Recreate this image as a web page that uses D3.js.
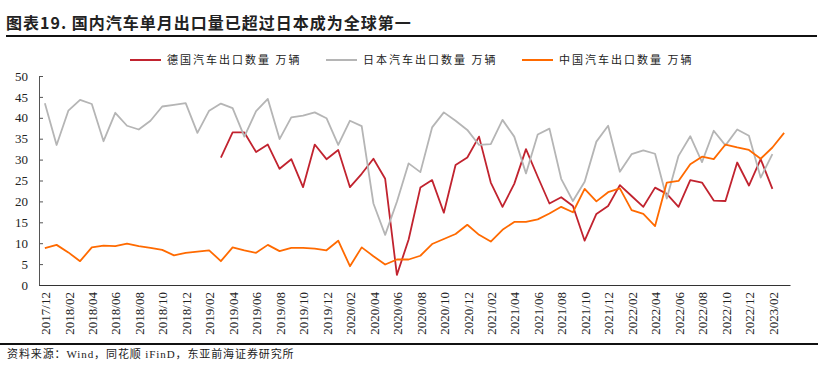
<!DOCTYPE html>
<html>
<head>
<meta charset="utf-8">
<script src="https://cdn.jsdelivr.net/npm/d3@7"></script>
<style>
  body { margin: 0; background: #fff; }
  .chart text { fill: #222; }
</style>
</head>
<body>
<div class="chart"></div>
<script>
// months 2017/12 .. 2023/03
const months = [
  "2017/12",
  "2018/01","2018/02","2018/03","2018/04","2018/05","2018/06","2018/07","2018/08","2018/09","2018/10","2018/11","2018/12",
  "2019/01","2019/02","2019/03","2019/04","2019/05","2019/06","2019/07","2019/08","2019/09","2019/10","2019/11","2019/12",
  "2020/01","2020/02","2020/03","2020/04","2020/05","2020/06","2020/07","2020/08","2020/09","2020/10","2020/11","2020/12",
  "2021/01","2021/02","2021/03","2021/04","2021/05","2021/06","2021/07","2021/08","2021/09","2021/10","2021/11","2021/12",
  "2022/01","2022/02","2022/03","2022/04","2022/05","2022/06","2022/07","2022/08","2022/09","2022/10","2022/11","2022/12",
  "2023/01","2023/02","2023/03"
];

// 德国 (starts 2019/03, ends 2023/02)
const germany = [
  null, null, null, null, null, null, null, null, null, null, null, null, null, null, null,
  30.5, 36.5, 36.5, 31.8, 33.6, 27.8, 30.1, 23.4, 33.6, 30.1,
  32.3, 23.4, 26.6, 30.2, 25.4, 2.4, 10.9, 23.3, 25.1, 17.3, 28.7, 30.5,
  35.5, 24.5, 18.7, 24.2, 32.5, 25.9, 19.5, 21.0, 18.9, 10.6, 17.0, 18.9,
  23.9, 21.3, 18.7, 23.3, 21.8, 18.7, 25.1, 24.5, 20.2, 20.1, 29.3, 23.8,
  30.1, 23.0, null
];

// 日本
const japan = [
  43.5,
  33.5, 41.7, 44.3, 43.3, 34.4, 41.2, 38.1, 37.2, 39.3, 42.7, 43.1, 43.5,
  36.4, 41.7, 43.4, 42.3, 35.5, 41.6, 44.5, 34.9, 40.1, 40.5, 41.3, 39.9,
  33.5, 39.3, 38.0, 19.5, 12.0, 19.9, 29.1, 27.0, 37.7, 41.3, 39.3, 37.1,
  33.5, 33.7, 39.5, 35.5, 26.7, 36.0, 37.4, 25.4, 20.1, 24.7, 34.3, 38.1,
  27.1, 31.3, 32.2, 31.4, 20.7, 30.9, 35.6, 29.4, 36.9, 33.4, 37.2, 35.7,
  25.7, 31.3, null
];

// 中国
const china = [
  8.8,
  9.6, 7.8, 5.7, 9.0, 9.4, 9.3, 9.9, 9.3, 8.9, 8.4, 7.1, 7.7,
  8.0, 8.3, 5.7, 9.0, 8.3, 7.7, 9.6, 8.1, 8.9, 8.9, 8.7, 8.3,
  10.6, 4.5, 9.0, 6.9, 4.9, 6.1, 6.1, 7.0, 9.8, 11.0, 12.2, 14.4,
  12.0, 10.4, 13.2, 15.1, 15.1, 15.7, 17.1, 18.7, 17.4, 23.0, 20.0, 22.2,
  23.1, 17.9, 17.0, 14.1, 24.5, 24.9, 28.9, 30.7, 30.1, 33.6, 32.9, 32.3,
  30.2, 32.9, 36.4
];

const yTicks = [0, 5, 10, 15, 20, 25, 30, 35, 40, 45, 50];

const series = [
  {name: "德国汽车出口数量 万辆", values: germany, color: "#c1232f"},
  {name: "日本汽车出口数量 万辆", values: japan, color: "#b5b5b5"},
  {name: "中国汽车出口数量 万辆", values: china, color: "#ff6a00"}
];

const width = 819, height = 372;
const plot = {left: 39, right: 790, top: 76, bottom: 285};

const svg = d3.select('.chart').append('svg')
    .attr('width', width)
    .attr('height', height)
    .style('display', 'block');

svg.append('rect').attr('width', width).attr('height', height).attr('fill', '#fff');

// title
svg.append('text')
    .attr('x', 6)
    .attr('y', 29)
    .style('font-family', '"Noto Sans CJK SC", sans-serif')
    .style('font-size', '16px')
    .style('font-weight', 'bold')
    .style('letter-spacing', '1px')
    .text('图表19. 国内汽车单月出口量已超过日本成为全球第一');

svg.append('line')
    .attr('x1', 6).attr('x2', 817)
    .attr('y1', 36).attr('y2', 36)
    .attr('stroke', '#111').attr('stroke-width', 2);

// scales
let x = d3.scaleBand()
    .domain(months)
    .range([plot.left, plot.right])
    .padding(0);
let y = d3.scaleLinear()
    .domain([0, 50])
    .range([plot.bottom, plot.top]);

const cx = d => x(d) + x.bandwidth() / 2;

// y axis
const yAxis = svg.append('g')
    .attr('transform', 'translate(' + plot.left + ',0)')
    .call(d3.axisLeft(y).tickValues(yTicks).tickSizeInner(-4).tickSizeOuter(0).tickPadding(11));
yAxis.select('.domain').attr('stroke', '#555');
yAxis.selectAll('.tick line').attr('stroke', '#555');
yAxis.selectAll('text')
    .style('font-family', '"Liberation Serif", "Times New Roman", serif')
    .style('font-size', '13px')
    .attr('fill', '#222');

// x axis
const xAxis = svg.append('g')
    .attr('transform', 'translate(0,' + plot.bottom + ')')
    .call(d3.axisBottom(x).tickValues(months.filter((d, i) => i % 2 === 0)).tickSize(0));
xAxis.select('.domain').attr('stroke', '#333').attr('stroke-width', 1.2);
xAxis.selectAll('text')
    .attr('transform', 'rotate(-90)')
    .attr('x', -7)
    .attr('y', 0)
    .attr('dy', '0.4em')
    .attr('text-anchor', 'end')
    .attr('fill', '#222')
    .style('font-family', '"Liberation Serif", "Times New Roman", serif')
    .style('font-size', '13px');

// lines
const line = d3.line()
    .defined(d => d.v !== null)
    .x(d => cx(d.m))
    .y(d => y(d.v));

series.forEach(s => {
    svg.append('path')
        .datum(months.map((m, i) => ({m: m, v: s.values[i]})))
        .attr('fill', 'none')
        .attr('stroke', s.color)
        .attr('stroke-width', 1.8)
        .attr('stroke-linejoin', 'round')
        .attr('d', line);
});

// legend
const legendX = [130, 326, 522];
series.forEach((s, i) => {
    const g = svg.append('g').attr('transform', 'translate(' + legendX[i] + ',60)');
    g.append('line')
        .attr('x1', 0).attr('x2', 31)
        .attr('y1', 0).attr('y2', 0)
        .attr('stroke', s.color).attr('stroke-width', 2);
    g.append('text')
        .attr('x', 37)
        .attr('y', 4)
        .style('font-family', '"Noto Sans CJK SC", sans-serif')
        .style('font-size', '11px')
        .style('letter-spacing', '2px')
        .attr('fill', '#333')
        .text(s.name);
});

// bottom rule + source
svg.append('line')
    .attr('x1', 0).attr('x2', 818)
    .attr('y1', 344).attr('y2', 344)
    .attr('stroke', '#111').attr('stroke-width', 2);

svg.append('text')
    .attr('x', 7)
    .attr('y', 358)
    .style('font-family', '"Liberation Serif", "Noto Sans CJK SC", serif')
    .style('font-size', '11px')
    .style('letter-spacing', '0.9px')
    .attr('fill', '#333')
    .text('资料来源：Wind，同花顺 iFinD，东亚前海证券研究所');
</script>
</body>
</html>
